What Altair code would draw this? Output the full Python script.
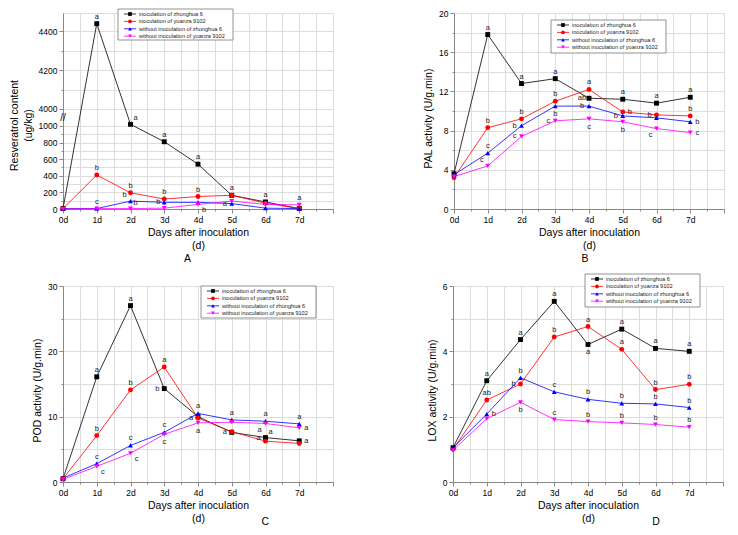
import altair as alt
import pandas as pd

days = [0, 1, 2, 3, 4, 5, 6, 7]
series = ["inoculation of zhonghua 6", "inoculation of yuanza 9102",
          "without inoculation of zhonghua 6", "without inoculation of yuanza 9102"]
colors = ["#000000", "#ff0000", "#0000ff", "#ff00ff"]
shapes = ["square", "circle", "triangle-up", "triangle-down"]

# Panel A - Resveratrol content (ug/kg)
a_zh_inoc = [5, 4440, 1020, 810, 540, 165, 85, 5]
a_yz_inoc = [5, 410, 195, 120, 150, 165, 70, 5]
a_zh_wo = [5, 5, 95, 80, 80, 65, 10, 5]
a_yz_wo = [0, 5, 5, 10, 55, 95, 55, 50]
a_let_day = [1, 1, 1, 2, 2, 2, 2, 3, 3, 3, 4, 4, 4, 5, 5, 6, 7]
a_let_ser = [0, 1, 2, 0, 1, 2, 3, 0, 1, 3, 0, 1, 3, 0, 2, 0, 3]
a_let_txt = ["a", "b", "c", "a", "b", "b", "b", "a", "b", "b", "a", "b", "b", "a", "a", "a", "a"]
a_let_pos = ["t", "t", "t", "tr", "t", "tl", "tr", "t", "t", "tl", "t", "t", "br", "t", "l", "t", "t"]

# Panel B - PAL activity
b_zh_inoc = [3.6, 17.8, 12.8, 13.3, 11.3, 11.2, 10.8, 11.4]
b_yz_inoc = [3.2, 8.3, 9.2, 11.0, 12.2, 9.9, 9.6, 9.5]
b_zh_wo = [3.5, 5.7, 8.5, 10.5, 10.5, 9.5, 9.3, 8.9]
b_yz_wo = [3.3, 4.4, 7.4, 9.0, 9.2, 8.9, 8.2, 7.8]
b_let_day = [1, 1, 1, 1, 2, 2, 2, 2, 3, 3, 3, 3, 4, 4, 4, 4, 5, 5, 5, 5, 6, 6, 6, 7, 7, 7, 7]
b_let_ser = [0, 1, 2, 3, 0, 1, 2, 3, 0, 1, 2, 3, 1, 0, 2, 3, 0, 1, 2, 3, 0, 1, 3, 0, 1, 2, 3]
b_let_txt = ["a", "b", "c", "c", "a", "b", "b", "c", "a", "b", "b", "c", "a", "ab", "b", "c",
             "a", "b", "b", "b", "a", "b", "c", "a", "b", "b", "c"]
b_let_pos = ["t", "t", "t", "tl", "t", "t", "l", "l", "t", "t", "b", "l", "t", "l", "l", "b",
             "t", "r", "l", "b", "t", "l", "bl", "t", "t", "r", "r"]

# Panel C - POD activity
c_zh_inoc = [0.5, 16.1, 27.0, 14.3, 10.0, 7.6, 6.8, 6.3]
c_yz_inoc = [0.5, 7.1, 14.1, 17.6, 9.8, 7.7, 6.25, 5.9]
c_zh_wo = [0.6, 2.8, 5.6, 7.6, 10.5, 9.5, 9.3, 8.9]
c_yz_wo = [0.4, 2.4, 4.4, 7.3, 9.05, 9.15, 8.95, 8.3]
c_let_day = [1, 1, 1, 1, 2, 2, 2, 2, 3, 3, 3, 3, 4, 4, 4, 5, 5, 6, 6, 6, 6, 7, 7, 7]
c_let_ser = [0, 1, 2, 3, 0, 1, 2, 3, 1, 0, 2, 3, 2, 1, 3, 2, 0, 2, 3, 0, 0, 2, 3, 0]
c_let_txt = ["a", "b", "c", "c", "a", "b", "c", "c", "a", "b", "c", "c", "a", "a", "a", "a", "a",
             "a", "a", "a", "a", "a", "a", "a"]
c_let_pos = ["t", "t", "t", "br", "t", "t", "t", "br", "t", "l", "t", "b", "t", "l", "b", "t", "l",
             "t", "bl", "l", "tr", "t", "r", "r"]

# Panel D - LOX activity
d_zh_inoc = [1.05, 3.1, 4.36, 5.53, 4.21, 4.68, 4.09, 4.0]
d_yz_inoc = [1.0, 2.51, 3.0, 4.44, 4.76, 4.06, 2.83, 2.99]
d_zh_wo = [1.05, 2.08, 3.19, 2.76, 2.53, 2.41, 2.39, 2.28]
d_yz_wo = [0.97, 1.94, 2.44, 1.91, 1.85, 1.81, 1.76, 1.68]
d_let_day = [1, 1, 1, 2, 2, 2, 2, 3, 3, 3, 3, 4, 4, 4, 4, 5, 5, 5, 5, 6, 6, 6, 6, 7, 7, 7, 7]
d_let_ser = [0, 1, 2, 0, 2, 1, 3, 0, 1, 2, 3, 1, 0, 2, 3, 0, 1, 2, 3, 0, 1, 2, 3, 0, 1, 2, 3]
d_let_txt = ["a", "ab", "b", "a", "b", "b", "b", "a", "b", "c", "c", "a", "a", "b", "b",
             "a", "a", "b", "b", "a", "b", "b", "b", "a", "b", "b", "b"]
d_let_pos = ["t", "t", "r", "t", "t", "l", "b", "t", "t", "t", "t", "t", "b", "t", "t",
             "t", "t", "t", "t", "t", "t", "t", "t", "t", "t", "t", "t"]

FONT = "Liberation Sans"
OFFS = {"t": (0, -7), "b": (0, 8), "l": (-7, 0), "r": (7, 0),
        "tr": (5, -6), "br": (6, 6), "tl": (-6, -6), "bl": (-6, 6)}

W, H = 270, 196

xscale = alt.Scale(domain=[0, 8], nice=False, zero=False)
xaxis = alt.Axis(
    values=[i / 2 for i in range(17)],
    labelExpr="datum.value % 1 === 0 && datum.value < 8 ? datum.value + 'd' : ''",
    tickSize={"condition": {"test": "datum.value % 1 !== 0", "value": 2}, "value": 4},
    title=["Days after inoculation", "(d)"], titleFontSize=10.5, titleLineHeight=13,
    titleFontWeight="normal", titleFont=FONT,
    titlePadding=4, labelFontSize=8.5, labelPadding=2, labelOverlap=False, labelFlush=False,
)


def legend_layers(lx, ly, w=115, h=32):
    # ly may be negative (box above the plot): applied as a mark offset
    one = pd.DataFrame({"s": ["legend"]})
    out = [alt.Chart(one).mark_rect(fill="white", stroke="#777", strokeWidth=0.8,
                                    yOffset=ly, y2Offset=ly).encode(
        x=alt.value(lx), x2=alt.value(lx + w), y=alt.value(0), y2=alt.value(h))]
    for i, s in enumerate(series):
        yy = 5 + i * 7.4
        d = pd.DataFrame({"s": [s]})
        out.append(alt.Chart(d).mark_rule(color=colors[i], strokeWidth=0.8, yOffset=ly,
                                          y2Offset=ly).encode(
            x=alt.value(lx + 6), x2=alt.value(lx + 18), y=alt.value(yy)))
        out.append(alt.Chart(d).mark_point(shape=shapes[i], filled=True, color=colors[i],
                                           size=14, opacity=1, yOffset=ly).encode(
            x=alt.value(lx + 12), y=alt.value(yy)))
        out.append(alt.Chart(d).mark_text(align="left", baseline="middle", font=FONT,
                                          fontSize=5.6, color="#222", dy=ly).encode(
            x=alt.value(lx + 21), y=alt.value(yy), text="s:N"))
    return out


def panel(vals, ytitle, yscale, yvalues, major_mod, let_day, let_ser, let_txt, let_pos,
          leg_x, leg_y, leg_h, letter, ldx, ldy, title_y, brk=False):
    rows = []
    for si, s in enumerate(series):
        for d, v in zip(days, vals[si]):
            rows.append({"day": d, "v": v, "s": s})
    df = pd.DataFrame(rows)
    lut = {(r["day"], r["s"]): r["v"] for r in rows}
    lrows = []
    for d, si, t, p in zip(let_day, let_ser, let_txt, let_pos):
        dx, dy = OFFS[p]
        lrows.append({"day": d, "v": lut[(d, series[si])], "t": t, "dx": dx, "dy": dy})
    ldf = pd.DataFrame(lrows)

    yaxis = alt.Axis(
        values=yvalues,
        labelExpr=f"datum.value % {major_mod} === 0 ? datum.label : ''",
        tickSize={"condition": {"test": f"datum.value % {major_mod} !== 0", "value": 2}, "value": 4},
        title=ytitle, titleFontSize=10.5, titleLineHeight=14, titlePadding=5,
        titleFontWeight="normal", titleFont=FONT,
        labelFontSize=8.5, labelPadding=2, labelOverlap=False, labelFlush=False,
        titleY=title_y, format="d" if brk else "",
    )
    cscale = alt.Scale(domain=series, range=colors)
    X = alt.X("day:Q", scale=xscale, axis=xaxis)
    Y = alt.Y("v:Q", scale=yscale, axis=yaxis)

    lines = alt.Chart(df).mark_line(strokeWidth=0.8).encode(
        x=X, y=Y, color=alt.Color("s:N", scale=cscale, legend=None))
    points = alt.Chart(df).mark_point(filled=True, size=24, opacity=1).encode(
        x=X, y=Y, color=alt.Color("s:N", scale=cscale, legend=None),
        shape=alt.Shape("s:N", scale=alt.Scale(domain=series, range=shapes), legend=None))
    texts = []
    for (dx, dy), g in ldf.groupby(["dx", "dy"]):
        texts.append(alt.Chart(g).mark_text(font=FONT, fontSize=7.5, dx=dx, dy=dy, color="#222")
                     .encode(x=X, y=Y, text="t:N"))
    layers = [lines, points] + texts
    if brk:
        bdf = pd.DataFrame({"day": [0], "v": [2500], "t": ["//"]})
        layers.append(alt.Chart(bdf).mark_text(font=FONT, fontSize=10, color="black", dy=1)
                      .encode(x=X, y=Y, text="t:N"))
    layers += legend_layers(leg_x, leg_y, h=leg_h)
    ch = alt.layer(*layers).properties(
        width=W, height=H,
        title=alt.TitleParams(letter, orient="bottom", anchor="start", dx=ldx, dy=ldy,
                              fontSize=10.5, fontWeight="normal", font=FONT, offset=0))
    return ch


pA = panel([a_zh_inoc, a_yz_inoc, a_zh_wo, a_yz_wo], ["Resveratrol content", "(ug/kg)"],
           alt.Scale(domain=[0, 1084, 3974, 4495], range=[196, 106, 101, 0], nice=False, zero=False),
           list(range(0, 1001, 100)) + [4000, 4100, 4200, 4300, 4400], 200,
           a_let_day, a_let_ser, a_let_txt, a_let_pos, 55, -4, 31, "A", 175, 3, 112, brk=True)
pB = panel([b_zh_inoc, b_yz_inoc, b_zh_wo, b_yz_wo], "PAL activity (U/g.min)",
           alt.Scale(domain=[0, 20], nice=False, zero=False), list(range(0, 21, 2)), 4,
           b_let_day, b_let_ser, b_let_txt, b_let_pos, 97, 7, 33, "B", 158, 3, 105)
pC = panel([c_zh_inoc, c_yz_inoc, c_zh_wo, c_yz_wo], "POD activity (U/g.min)",
           alt.Scale(domain=[0, 30], nice=False, zero=False), list(range(0, 31, 5)), 10,
           c_let_day, c_let_ser, c_let_txt, c_let_pos, 138, 0, 32, "C", 229, -7, 104)
pD = panel([d_zh_inoc, d_yz_inoc, d_zh_wo, d_yz_wo], "LOX activity (U/g.min)",
           alt.Scale(domain=[0, 6], nice=False, zero=False), list(range(0, 7, 1)), 2,
           d_let_day, d_let_ser, d_let_txt, d_let_pos, 132, -12, 33, "D", 225, -7, 104)

chart = alt.vconcat(
    alt.hconcat(pA, pB, spacing=89),
    alt.hconcat(pC, pD, spacing=92),
    spacing=8,
).properties(padding={"left": 0, "top": 0, "right": 0, "bottom": 0}).configure_view(
    stroke=None
).configure_axis(
    domainColor="black", tickColor="black", labelColor="black", titleColor="black",
    labelFont=FONT, titleFont=FONT, titleFontWeight="normal", grid=False, domainWidth=1,
    tickWidth=1,
).configure(background="white")

chart.save("out.html", embed_options={"renderer": "svg", "actions": False})
